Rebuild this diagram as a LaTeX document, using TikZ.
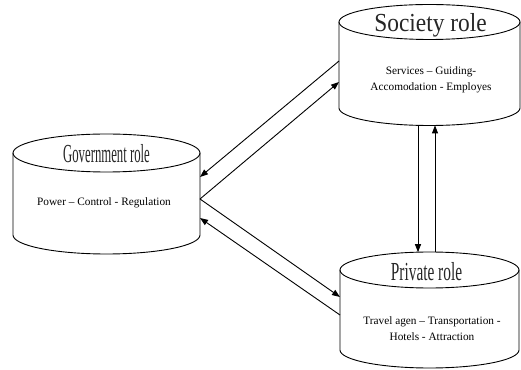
\documentclass[tikz,border=0pt]{standalone}
\usepackage{graphicx}
\usepackage{fontspec}
\setmainfont{Liberation Serif}
\usetikzlibrary{arrows.meta}
\begin{document}
\begin{tikzpicture}[x=1pt,y=1pt]

\tikzset{role/.style={inner sep=0pt,outer sep=0pt},
    cyl/.style={draw=black,line width=0.9pt},
    link/.style={draw=black,line width=0.9pt,-{Triangle[length=8pt,width=6pt]}},
    title/.style={inner sep=0pt,text=black!85},
    roletext/.style={align=center,inner sep=0pt,font=\fontsize{11.3}{15.5}\selectfont}}

\useasboundingbox (0,0) rectangle (521,369);

%% Government
\node[role,minimum width=187pt,minimum height=82pt] (gov) at (106.5,175) {};
\draw[cyl] (gov.north west) -- (gov.south west) arc[start angle=180,end angle=360,x radius=93.5,y radius=19] -- (gov.north east);
\draw[cyl] (gov.north) ellipse[x radius=93.5,y radius=19];
\node[title] (govtitle) at ([yshift=-1pt]gov.north) {\scalebox{0.49}[1]{\fontsize{26}{26}\selectfont Government role}};
\node[roletext] (govtext) at (104,166) {Power – Control - Regulation};

%% Society
\node[role,minimum width=181pt,minimum height=86pt] (soc) at (429.5,304) {};
\draw[cyl] (soc.north west) -- (soc.south west) arc[start angle=180,end angle=360,x radius=90.5,y radius=17.5] -- (soc.north east);
\draw[cyl] (soc.north) ellipse[x radius=90.5,y radius=17.5];
\node[title] (soctitle) at ([xshift=1pt,yshift=-3pt]soc.north) {\scalebox{0.9}[1]{\fontsize{26}{26}\selectfont Society role}};
\node[roletext] (soctext) at (431,289) {Services – Guiding-\\Accomodation - Employes};

%% Private
\node[role,minimum width=179pt,minimum height=80pt] (priv) at (429.5,59) {};
\draw[cyl] (priv.north west) -- (priv.south west) arc[start angle=180,end angle=360,x radius=89.5,y radius=18] -- (priv.north east);
\draw[cyl] (priv.north) ellipse[x radius=89.5,y radius=18];
\node[title] (privtitle) at ([xshift=-3pt,yshift=-2pt]priv.north) {\scalebox{0.59}[1]{\fontsize{26}{26}\selectfont Private role}};
\node[roletext] (privtext) at (432,40.5) {Travel agen – Transportation -\\Hotels - Attraction};

%% Links
\draw[link] ([yshift=4pt]soc.west) -- ([yshift=17pt]gov.east);
\draw[link] ([yshift=-5pt]gov.east) -- ([yshift=-17pt]soc.west);
\draw[link] ([yshift=-5pt]gov.east) -- ([yshift=13pt]priv.west);
\draw[link] ([yshift=-5pt]priv.west) -- ([yshift=-24pt]gov.east);

\draw[link] ([xshift=-11.5pt,yshift=-17.3pt]soc.south) -- ([xshift=-11.5pt,yshift=17.8pt]priv.north);
\draw[link] ([xshift=5.5pt,yshift=17.9pt]priv.north) -- ([xshift=5.5pt,yshift=-17.4pt]soc.south);

\end{tikzpicture}
\end{document}
